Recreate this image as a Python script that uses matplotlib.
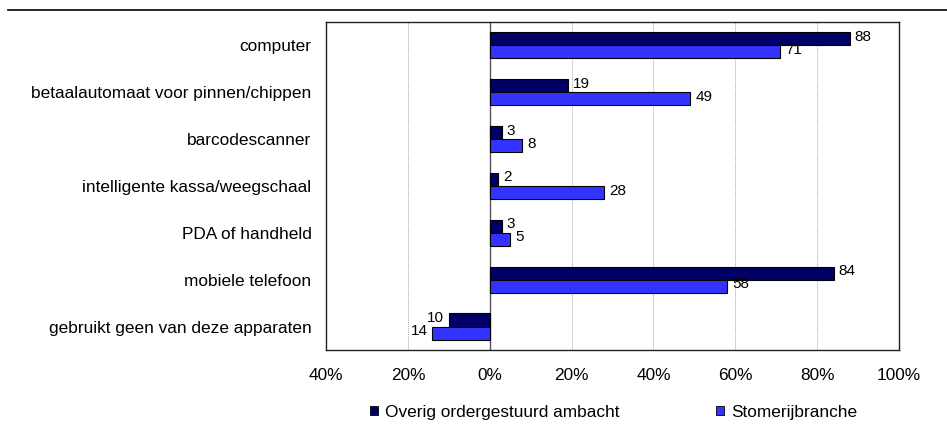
import matplotlib.pyplot as plt
from matplotlib.patches import Patch
from matplotlib.lines import Line2D
import numpy as np

plt.rcParams['font.family'] = ['Liberation Sans', 'DejaVu Sans']

categories = [
    'computer',
    'betaalautomaat voor pinnen/chippen',
    'barcodescanner',
    'intelligente kassa/weegschaal',
    'PDA of handheld',
    'mobiele telefoon',
    'gebruikt geen van deze apparaten',
]
ambacht = [88, 19, 3, 2, 3, 84, -10]
stomerij = [71, 49, 8, 28, 5, 58, -14]
series_names = ['Overig ordergestuurd ambacht', 'Stomerijbranche']
ticks = [-40, -20, 0, 20, 40, 60, 80, 100]

dark = '#000066'
light = '#3333ff'
fs = 12.4

fig = plt.figure(figsize=(9.47, 4.37), dpi=100)
ax = fig.add_axes([0.3443, 0.1991, 0.605, 0.7512])

# horizontal rule across the top of the figure
fig.add_artist(Line2D([0.008, 1.0], [0.977, 0.977], color='black', lw=1.2,
                      transform=fig.transFigure))

y = np.arange(len(categories))
h = 0.28
ax.barh(y - h / 2, ambacht, height=h, color=dark, edgecolor='black', lw=0.8, zorder=3)
ax.barh(y + h / 2, stomerij, height=h, color=light, edgecolor='black', lw=0.8, zorder=3)

for yi, va, vs in zip(y, ambacht, stomerij):
    for v, yy in ((va, yi - h / 2), (vs, yi + h / 2)):
        off = 1.2 if v >= 0 else -1.2
        ax.text(v + off, yy - 0.04, f'{abs(v)}', ha='left' if v >= 0 else 'right',
                va='center', fontsize=11, zorder=4)

ax.axvline(0, color='#555555', lw=1, zorder=2)
for t in ticks[1:-1]:
    if t != 0:
        ax.axvline(t, color='#aaaaaa', lw=0.7, ls=(0, (1, 1)), zorder=1)

ax.set_xlim(-40, 100)
ax.set_ylim(len(categories) - 0.5, -0.5)
ax.set_xticks(ticks)
ax.set_xticklabels([f'{abs(t)}%' for t in ticks], fontsize=fs)
ax.set_yticks(y)
ax.set_yticklabels(categories, fontsize=fs)
ax.tick_params(axis='both', length=0)
ax.tick_params(axis='x', pad=13)
ax.tick_params(axis='y', pad=10.5)
for s in ax.spines.values():
    s.set_linewidth(1.0)
    s.set_color('#222222')

handles = [Patch(facecolor=dark, edgecolor='black', lw=0.6),
           Patch(facecolor=light, edgecolor='black', lw=0.6)]
fig.legend(handles, series_names, loc='center', bbox_to_anchor=(0.648, 0.057),
           ncol=2, frameon=False, fontsize=fs, handlelength=0.47, handleheight=0.47,
           handletextpad=0.4, columnspacing=5.6, borderpad=0, borderaxespad=0)

fig.savefig('out.png', dpi=100)
